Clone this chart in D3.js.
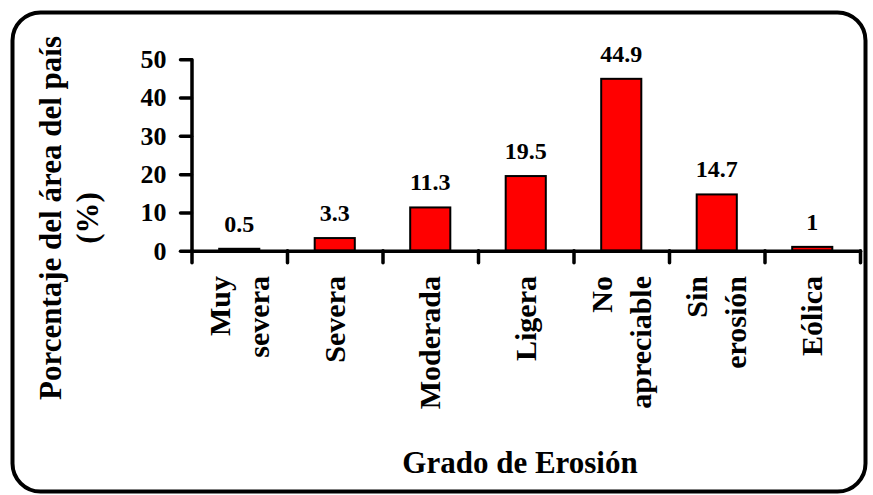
<!DOCTYPE html>
<html>
<head>
<meta charset="utf-8">
<script src="https://cdn.jsdelivr.net/npm/d3@7"></script>
<style>
  html, body { margin: 0; padding: 0; background: #fff; }
  svg { display: block; }
</style>
</head>
<body>
<svg id="chart" width="873" height="495"></svg>
<script>
// Erosion classes and share of national area (%)
const categories = ["Muy severa", "Severa", "Moderada", "Ligera", "No apreciable", "Sin erosión", "Eólica"];
const values = [0.5, 3.3, 11.3, 19.5, 44.9, 14.7, 1];
const yTicks = [0, 10, 20, 30, 40, 50];
const yTitleLines = ["Porcentaje del área del país", "(%)"];
const xTitle = "Grado de Erosión";

const FONT = "\"Liberation Serif\", \"Times New Roman\", serif";

const svg = d3.select("#chart");
const plotLeft = 191.5, plotRight = 860, plotTop = 59.3, plotBottom = 250.7;

// Rounded frame
svg.append("rect")
  .attr("x", 12.5).attr("y", 12.5)
  .attr("width", 853).attr("height", 479)
  .attr("rx", 28).attr("ry", 28)
  .attr("fill", "#fff").attr("stroke", "#000").attr("stroke-width", 4);

const x = d3.scaleBand()
  .domain(categories)
  .range([plotLeft, plotRight])
  .paddingInner(0.58)
  .paddingOuter(0.29);

const y = d3.scaleLinear().domain([0, 50]).range([plotBottom, plotTop]);

// Band boundaries for the category ticks
const edge = d3.scaleLinear().domain([0, categories.length]).range([plotLeft, plotRight]);

// Bars
svg.append("g").selectAll("rect")
  .data(values)
  .join("rect")
  .attr("x", (d, i) => x(categories[i]))
  .attr("y", d => y(d))
  .attr("width", x.bandwidth())
  .attr("height", d => y(0) - y(d))
  .attr("fill", "#ff0000")
  .attr("stroke", "#000")
  .attr("stroke-width", 2);

// Value labels
svg.append("g").selectAll("text")
  .data(values)
  .join("text")
  .attr("x", (d, i) => x(categories[i]) + x.bandwidth() / 2)
  .attr("y", d => y(d) - 17)
  .attr("text-anchor", "middle")
  .style("font-size", "24px")
  .text(d => d);

// Y axis
const yAxis = svg.append("g")
  .attr("transform", `translate(${plotLeft},0)`)
  .call(d3.axisLeft(y).tickValues(yTicks).tickSize(11).tickSizeOuter(0).tickPadding(14).tickFormat(d3.format("d")));
yAxis.select(".domain").attr("stroke", "#000").attr("stroke-width", 3.5).attr("stroke-linecap", "round");
yAxis.selectAll(".tick line").attr("stroke", "#000").attr("stroke-width", 3.5).attr("stroke-linecap", "round");
yAxis.selectAll(".tick text").style("font-size", "26px");

// X axis with ticks at band edges
const xAxis = svg.append("g")
  .attr("transform", `translate(0,${plotBottom})`)
  .call(d3.axisBottom(edge).tickValues(d3.range(categories.length + 1)).tickSize(12).tickSizeOuter(0).tickFormat(""));
xAxis.select(".domain").attr("stroke", "#000").attr("stroke-width", 3.5).attr("stroke-linecap", "round");
xAxis.selectAll(".tick line").attr("stroke", "#000").attr("stroke-width", 3.5).attr("stroke-linecap", "round");

// Category labels, rotated, one word per line for two-word names
const catG = svg.append("g");
categories.forEach((c, i) => {
  const cx = x(c) + x.bandwidth() / 2;
  const words = c.split(" ");
  const lh = 39;
  words.forEach((w, j) => {
    const off = (j - (words.length - 1) / 2) * lh + 10;
    catG.append("text")
      .attr("transform", `translate(${cx + off},276) rotate(-90)`)
      .attr("text-anchor", "end")
      .style("font-size", "30px")
      .text(w);
  });
});

// Y axis title
const yt = svg.append("g");
yTitleLines.forEach((t, j) => {
  yt.append("text")
    .attr("transform", `translate(${61 + j * 37},218) rotate(-90)`)
    .attr("text-anchor", "middle")
    .style("font-size", "31px")
    .text(t);
});

// X axis title
svg.append("text")
  .attr("x", 520).attr("y", 473)
  .attr("text-anchor", "middle")
  .style("font-size", "31px")
  .text(xTitle);

// Bold serif type throughout
svg.selectAll("text")
  .style("font-family", FONT)
  .style("font-weight", "bold")
  .style("fill", "#000");
</script>
</body>
</html>
